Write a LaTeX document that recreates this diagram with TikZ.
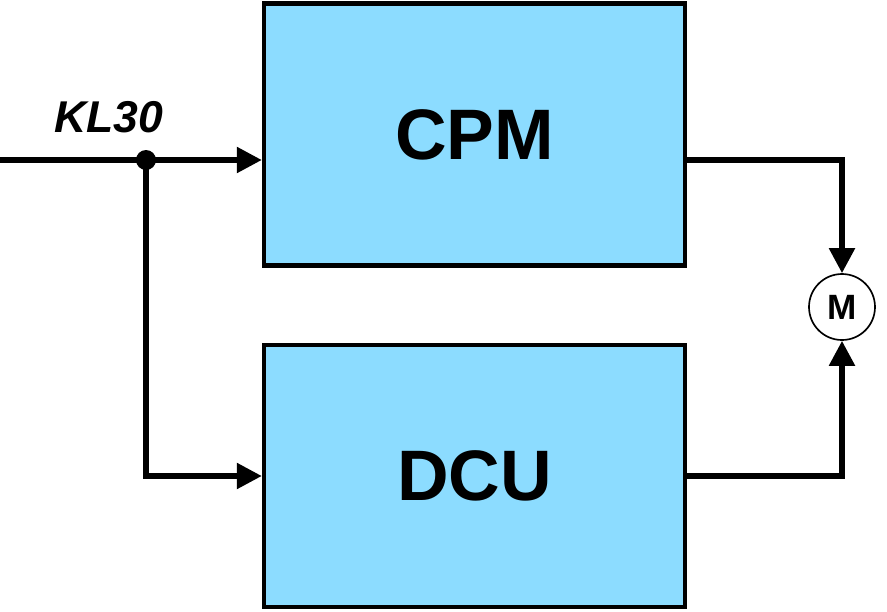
\documentclass[tikz,border=0pt]{standalone}
\usepackage{fontspec}
\setmainfont{Liberation Sans}
\usetikzlibrary{arrows.meta, positioning}
\definecolor{unitFill}{HTML}{8CDCFF}

\begin{document}
\begin{tikzpicture}[
  x=0.03cm, y=-0.03cm,
  unit/.style={draw, line width=0.13cm, fill=unitFill, minimum width=12.63cm,
               minimum height=7.86cm, inner sep=0pt, font=\fontsize{61}{61}\selectfont\bfseries},
  motor/.style={draw, circle, line width=0.05cm, minimum size=1.98cm, inner sep=0pt,
                font=\fontsize{30}{30}\selectfont\bfseries},
  junction/.style={circle, fill, minimum size=0.6cm, inner sep=0pt},
  wire/.style={line width=0.16cm},
  a/.style={wire, -{Triangle[length=0.75cm, width=0.75cm]}}
]
\useasboundingbox (0,0) rectangle (887,612);
\node[unit] (cpm) at (474.5,134.5) {CPM};
\node[unit] (dcu) at (474.5,476) {DCU};
\node[motor] (motor) at (842,307) {M};
\node[junction] (tap) at (146,160) {};
\coordinate (supply) at (0,160);
\node[font=\fontsize{38}{38}\selectfont\bfseries\itshape] (kl30) at (109,117.5) {KL30};

\draw[wire] (supply) -- (tap.center);
\draw[a] (tap.center) -- (cpm.west |- tap.center);
\draw[a] (tap.center) |- (dcu.west);
\draw[a] (cpm.east |- tap.center) -| (motor.north);
\draw[a] (dcu.east) -| (motor.south);
\end{tikzpicture}
\end{document}
